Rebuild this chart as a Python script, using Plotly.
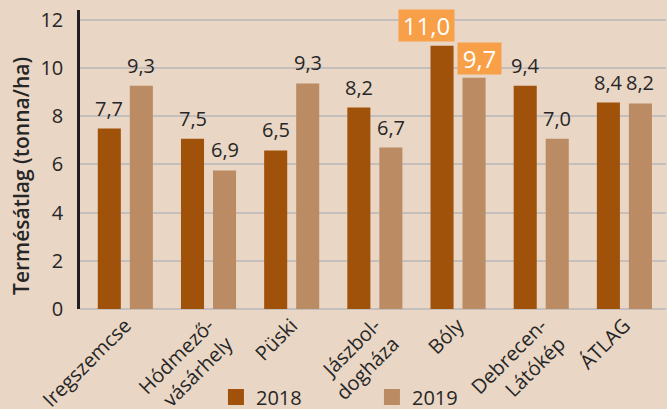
import plotly.graph_objects as go

categories = ["Iregszemcse", "Hódmező-<br>vásárhely", "Püski", "Jászbol-<br>dogháza",
              "Bóly", "Debrecen-<br>Látókép", "ÁTLAG"]
values_2018 = [7.49, 7.07, 6.58, 8.36, 10.93, 9.27, 8.57]
values_2019 = [9.27, 5.75, 9.36, 6.70, 9.60, 7.07, 8.53]
labels_2018 = ["7,7", "7,5", "6,5", "8,2", "11,0", "9,4", "8,4"]
labels_2019 = ["9,3", "6,9", "9,3", "6,7", "9,7", "7,0", "8,2"]
series_names = ["2018", "2019"]
highlight_category = "Bóly"
y_ticks = [0, 2, 4, 6, 8, 10, 12]

BG = "#e9d6c5"
C2018 = "#a0520a"
C2019 = "#bb8c63"
HL = "#f8a048"
GRID = "#c4bebc"
TXT = "#262626"
FONT = "Open Sans"
W = 500

fig = go.Figure()
for name, vals, col in [(series_names[0], values_2018, C2018), (series_names[1], values_2019, C2019)]:
    fig.add_trace(go.Bar(x=categories, y=vals, name=name, marker_color=col,
                         marker_line_width=0, showlegend=False, hoverinfo="skip"))
    fig.add_trace(go.Scatter(x=[None], y=[None], mode="markers", name=name,
                             marker=dict(symbol="square", size=16, color=col)))

annotations = []
for i, cat in enumerate(categories):
    for vals, labs, off, hl_w, hl_x, hl_y in [(values_2018, labels_2018, -16, 55, -32, 4),
                                              (values_2019, labels_2019, 16, 43, 21, 3)]:
        if cat == highlight_category:
            annotations.append(dict(x=cat, y=vals[i], text=labs[i], showarrow=False,
                                    xshift=hl_x, yshift=hl_y, yanchor="bottom",
                                    width=hl_w, height=31, borderpad=0, bgcolor=HL,
                                    font=dict(family=FONT, size=24, color="white", weight=W)))
        else:
            annotations.append(dict(x=cat, y=vals[i], text=labs[i], showarrow=False,
                                    xshift=off, yshift=5, yanchor="bottom",
                                    font=dict(family=FONT, size=20, color=TXT, weight=W)))

annotations.append(dict(xref="paper", yref="paper", x=-0.1007, y=0.445,
                        text="Termésátlag (tonna/ha)", textangle=-90, showarrow=False,
                        xanchor="center", yanchor="middle",
                        font=dict(family=FONT, size=21, color=TXT, weight=600)))

fig.update_layout(
    width=667, height=409,
    margin=dict(l=80, r=1, t=10, b=100, autoexpand=False),
    paper_bgcolor=BG, plot_bgcolor=BG,
    barmode="group", bargap=0.23, bargroupgap=0.28,
    font=dict(family=FONT, size=20, color=TXT, weight=W),
    annotations=annotations,
    showlegend=True,
    legend=dict(orientation="h", x=0.232, xanchor="left", y=-0.294, yanchor="middle",
                bgcolor="rgba(0,0,0,0)", font=dict(family=FONT, size=20, color=TXT, weight=W),
                entrywidth=111, entrywidthmode="pixels"),
)
fig.update_xaxes(type="category", range=[-0.545, 6.5], tickangle=-45, showgrid=False,
                 showline=False, zeroline=False, ticks="", automargin=False,
                 tickfont=dict(family=FONT, size=20, color=TXT, weight=W))
fig.update_yaxes(range=[0, 12.41], tickvals=y_ticks, showgrid=True, gridcolor=GRID,
                 gridwidth=2, zeroline=True, zerolinecolor=GRID, zerolinewidth=2,
                 showline=True, linecolor="#231f20", linewidth=2.5, ticks="",
                 ticklabelstandoff=10, automargin=False,
                 tickfont=dict(family=FONT, size=20, color=TXT, weight=W))

fig.write_html("out.html", config={"displayModeBar": False},
               post_script="document.body.style.margin='0';document.body.style.padding='0';"
                           "document.body.style.overflow='hidden';")
